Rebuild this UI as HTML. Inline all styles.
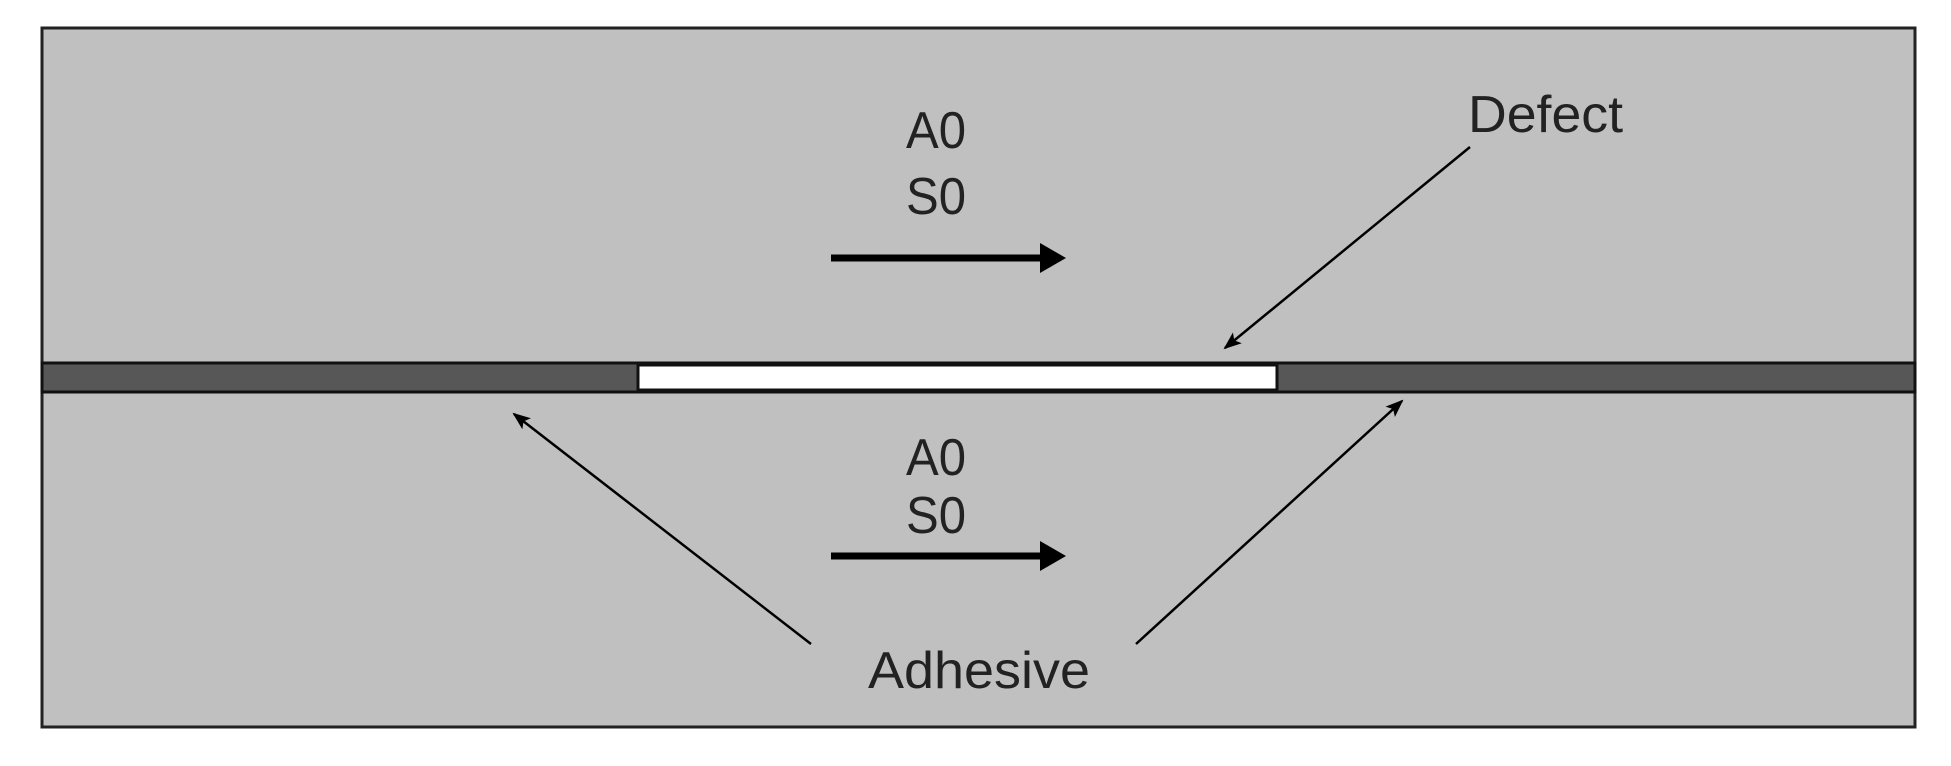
<!DOCTYPE html>
<html><head><style>html,body{margin:0;padding:0;background:#fff;}</style></head>
<body>
<svg width="1951" height="761" xmlns="http://www.w3.org/2000/svg">
<defs>
<marker id="h" markerWidth="18" markerHeight="14" refX="16" refY="7" orient="auto" markerUnits="userSpaceOnUse"><path d="M0,0 L18,7 L0,14 L4,7 z" fill="#000"/></marker>
<marker id="h2" markerWidth="26" markerHeight="30" refX="2" refY="15" orient="auto" markerUnits="userSpaceOnUse"><path d="M0,0 L26,15 L0,30 z" fill="#000"/></marker>
</defs>
<rect x="42" y="28" width="1873" height="699" fill="#c0c0c0" stroke="#222" stroke-width="3"/>
<rect x="42" y="363" width="1873" height="29" fill="#575757" stroke="#111" stroke-width="3"/>
<rect x="638" y="365" width="639" height="25" fill="#fff" stroke="#111" stroke-width="3"/>
<g font-family="Liberation Sans, sans-serif" font-size="52" fill="#222">
<text x="906" y="148" textLength="60" lengthAdjust="spacingAndGlyphs">A0</text>
<text x="906" y="214" textLength="60" lengthAdjust="spacingAndGlyphs">S0</text>
<text x="906" y="475" textLength="60" lengthAdjust="spacingAndGlyphs">A0</text>
<text x="906" y="533" textLength="60" lengthAdjust="spacingAndGlyphs">S0</text>
<text x="1468" y="132" textLength="155" lengthAdjust="spacingAndGlyphs">Defect</text>
<text x="868" y="688" textLength="222" lengthAdjust="spacingAndGlyphs">Adhesive</text>
</g>
<line x1="831" y1="258" x2="1042" y2="258" stroke="#000" stroke-width="7" marker-end="url(#h2)"/>
<line x1="831" y1="556" x2="1042" y2="556" stroke="#000" stroke-width="7" marker-end="url(#h2)"/>
<g stroke="#000" stroke-width="2.5">
<line x1="1470" y1="147" x2="1225" y2="348" marker-end="url(#h)"/>
<line x1="811" y1="644" x2="514" y2="414" marker-end="url(#h)"/>
<line x1="1136" y1="644" x2="1402" y2="401" marker-end="url(#h)"/>
</g>
</svg>
</body></html>
